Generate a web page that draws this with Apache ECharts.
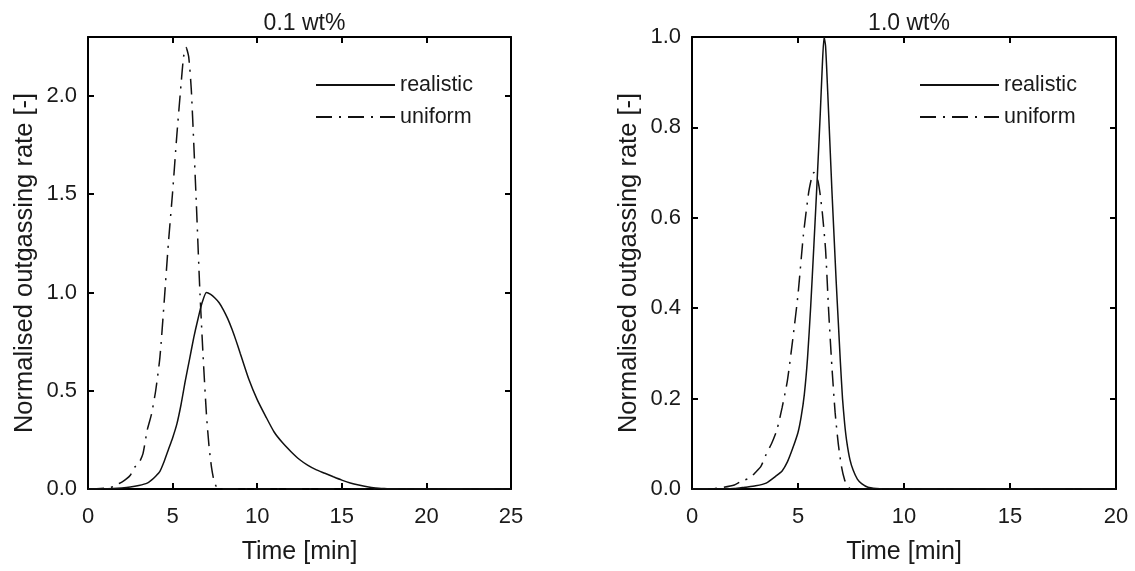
<!DOCTYPE html>
<html>
<head>
<meta charset="utf-8">
<script src="https://cdn.jsdelivr.net/npm/echarts@6/dist/echarts.min.js"></script>
<style>html,body{margin:0;padding:0;background:#fff}#c{width:1135px;height:571px}</style>
</head>
<body>
<div id="c"></div>
<script>
// ---- data ----
const titles = ['0.1 wt%', '1.0 wt%'];
const seriesNames = ['realistic', 'uniform'];
const xMax = [25, 20];
const xInterval = [5, 5];
const yMax = [2.3, 1.0];
const yInterval = [0.5, 0.2];

// 0.1 wt% realistic
const r01_t = [0, 1, 1.5, 2, 2.5, 3, 3.5, 3.75, 4, 4.25, 4.5, 4.75, 5, 5.25, 5.5, 5.75, 6, 6.25, 6.5, 6.75, 7, 7.25, 7.5, 7.75, 8, 8.25, 8.5, 8.75, 9, 9.5, 10, 10.5, 11, 11.5, 12, 12.5, 13, 13.5, 14, 14.5, 15, 15.5, 16, 16.5, 17, 17.5, 18, 25];
const r01_y = [0, 0.001, 0.002, 0.005, 0.01, 0.018, 0.03, 0.045, 0.065, 0.09, 0.14, 0.2, 0.26, 0.33, 0.43, 0.55, 0.66, 0.77, 0.865, 0.95, 1.0, 0.99, 0.972, 0.948, 0.912, 0.868, 0.815, 0.755, 0.69, 0.56, 0.455, 0.37, 0.29, 0.235, 0.19, 0.15, 0.12, 0.097, 0.08, 0.062, 0.045, 0.031, 0.02, 0.011, 0.005, 0.002, 0, 0];
// 0.1 wt% uniform
const u01_t = [0, 0.5, 1.0, 1.5, 1.75, 2.0, 2.25, 2.5, 2.75, 3.0, 3.25, 3.5, 3.75, 4.0, 4.25, 4.5, 4.75, 5.0, 5.25, 5.5, 5.65, 5.8, 5.95, 6.1, 6.25, 6.4, 6.6, 6.8, 7.0, 7.15, 7.3, 7.45, 7.6, 7.75, 8, 25];
const u01_y = [0, 0.001, 0.004, 0.012, 0.024, 0.035, 0.05, 0.07, 0.11, 0.13, 0.18, 0.3, 0.38, 0.5, 0.67, 0.95, 1.25, 1.51, 1.8, 2.06, 2.2, 2.246, 2.2, 2.04, 1.76, 1.46, 1.03, 0.68, 0.38, 0.22, 0.11, 0.04, 0.01, 0.002, 0, 0];
// 1.0 wt% realistic
const r10_t = [0, 1, 2, 2.5, 3, 3.5, 4, 4.25, 4.5, 4.75, 5, 5.15, 5.3, 5.45, 5.6, 5.75, 5.9, 6.05, 6.15, 6.23, 6.3, 6.4, 6.5, 6.6, 6.7, 6.8, 6.9, 7.0, 7.1, 7.2, 7.3, 7.45, 7.6, 7.8, 8.0, 8.3, 8.7, 9, 20];
const r10_y = [0, 0, 0.001, 0.004, 0.007, 0.013, 0.03, 0.04, 0.06, 0.09, 0.125, 0.16, 0.21, 0.29, 0.405, 0.54, 0.68, 0.83, 0.94, 1.0, 0.98, 0.88, 0.77, 0.66, 0.56, 0.46, 0.37, 0.28, 0.2, 0.145, 0.105, 0.065, 0.042, 0.022, 0.012, 0.004, 0.001, 0, 0];
// 1.0 wt% uniform
const u10_t = [0, 1, 1.5, 2, 2.25, 2.5, 2.75, 3, 3.25, 3.5, 3.75, 4, 4.25, 4.5, 4.75, 5, 5.25, 5.5, 5.65, 5.75, 5.85, 5.95, 6.05, 6.15, 6.3, 6.45, 6.6, 6.75, 6.9, 7.05, 7.2, 7.35, 7.5, 20];
const u10_y = [0, 0.001, 0.004, 0.009, 0.015, 0.02, 0.025, 0.037, 0.05, 0.077, 0.1, 0.13, 0.18, 0.24, 0.33, 0.43, 0.56, 0.655, 0.69, 0.70, 0.695, 0.68, 0.65, 0.61, 0.53, 0.39, 0.27, 0.17, 0.1, 0.05, 0.02, 0.005, 0, 0];

// ---- chart ----
const zip = (t, y) => t.map((v, i) => [v, y[i]]);
const panelData = [[zip(r01_t, r01_y), zip(u01_t, u01_y)], [zip(r10_t, r10_y), zip(u10_t, u10_y)]];

const FONT = 'Liberation Sans, Arial, sans-serif';
const TXT = '#1a1a1a';
const grids = [
  {left: 88, top: 37, width: 423, height: 452},
  {left: 692, top: 37, width: 424, height: 452}
];
const axisLine = {show: true, onZero: false, lineStyle: {color: '#000', width: 2}};
const axisTick = {show: true, inside: true, length: 6, lineStyle: {color: '#000', width: 2}};

const xAxis = [], yAxis = [], series = [], title = [], legend = [];
const dashDot = [16, 7, 2, 7];
grids.forEach((g, i) => {
  const step = yInterval[i];
  const fmtY = v => {
    const k = Math.round(v / step);
    return Math.abs(k * step - v) < 1e-6 ? v.toFixed(1) : '';
  };
  xAxis.push({type: 'value', gridIndex: i, min: 0, max: xMax[i], interval: xInterval[i], position: 'bottom',
    name: 'Time [min]', nameLocation: 'middle', nameGap: 51,
    nameTextStyle: {fontFamily: FONT, fontSize: 25, color: TXT},
    axisLine, axisTick, splitLine: {show: false},
    axisLabel: {fontFamily: FONT, fontSize: 22, color: TXT, margin: 17}});
  xAxis.push({type: 'value', gridIndex: i, min: 0, max: xMax[i], interval: xInterval[i], position: 'top',
    axisLine, axisTick, splitLine: {show: false}, axisLabel: {show: false}});
  yAxis.push({type: 'value', gridIndex: i, min: 0, max: yMax[i], interval: yInterval[i], position: 'left',
    name: 'Normalised outgassing rate [-]', nameLocation: 'middle', nameGap: 50,
    nameTextStyle: {fontFamily: FONT, fontSize: 25.5, color: TXT},
    axisLine, axisTick, splitLine: {show: false},
    axisLabel: {fontFamily: FONT, fontSize: 22, color: TXT, margin: 11, formatter: fmtY}});
  yAxis.push({type: 'value', gridIndex: i, min: 0, max: yMax[i], interval: yInterval[i], position: 'right',
    axisLine, axisTick, splitLine: {show: false}, axisLabel: {show: false}});
  title.push({text: titles[i], left: g.left + g.width / 2, top: 7, textAlign: 'center',
    textStyle: {fontFamily: FONT, fontSize: 23, fontWeight: 'normal', color: TXT}});
  legend.push({orient: 'vertical', left: g.left + 222, top: 69, itemWidth: 79, itemHeight: 14, itemGap: 10,
    data: seriesNames.slice(),
    itemStyle: {opacity: 0},
    textStyle: {fontFamily: FONT, fontSize: 21.5, color: TXT}});
  seriesNames.forEach((n, k) => {
    series.push({type: 'line', name: n, xAxisIndex: i * 2, yAxisIndex: i * 2, data: panelData[i][k],
      showSymbol: false, symbol: 'none', smooth: 0.2, animation: false,
      lineStyle: {color: '#111', width: 1.5, type: k === 0 ? 'solid' : dashDot},
      itemStyle: {color: '#111'}});
  });
});

const chart = echarts.init(document.getElementById('c'), null, {renderer: 'canvas'});
chart.setOption({animation: false, backgroundColor: '#fff', grid: grids, xAxis, yAxis, series, title, legend});
</script>
</body>
</html>
